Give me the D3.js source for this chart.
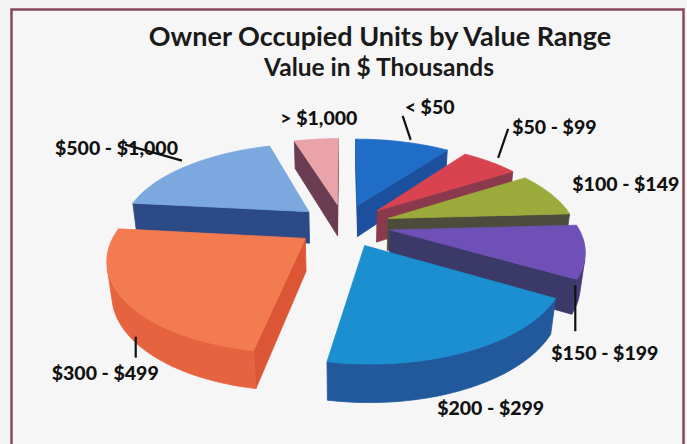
<!DOCTYPE html>
<html><head><meta charset="utf-8">
<script src="https://cdn.jsdelivr.net/npm/d3@7"></script>
<style>body{margin:0;background:#f3f3f3;} svg{display:block}</style>
</head><body>
<svg id="chart" width="687" height="444"></svg>
<script>
// ---------- data ----------
const categories = ["< $50", "$50 - $99", "$100 - $149", "$150 - $199", "$200 - $299", "$300 - $499", "$500 - $1,000", "> $1,000"];
const values = [10.0, 6.0, 8.1, 9.3, 19.4, 23.9, 18.6, 4.7];
const titleText = "Owner Occupied Units by Value Range";
const subtitleText = "Value in $ Thousands";

// ---------- styles ----------
const topColors  = ["#1f6dc6", "#d9434f", "#9bab3b", "#6f50b6", "#1b8fd0", "#f27b50", "#7ba8df", "#e9a3a9"];
const cutColors  = ["#1c4f9e", "#8a3a4c", "#4c4c3c", "#3b3968", "#23579b", "#dc5636", "#2c4a85", "#6b3d52"];
const wallColors = ["#1a56a8", "#a8394a", "#6a7630", "#433b76", "#22589c", "#e6633f", "#2c4a85", "#a06a78"];
// label layout: anchor level, leader line start/end offsets (or null), text offset
const labelAnchor = ["top", "top", "top", "bottom", "bottom", "bottom", "top", "top"];
const labelLineStart = [[8, -2], [8, -4], null, [-5, 0], null, [6, 0], [-6, -5], null];
const labelLine = [[0, -26], [18, -33], null, [-5, 46], null, [6, 21], [-63, -21], null];
const labelText = [[2, -28], [22, -28], [21, -3], [-29, 75], [-30, 26], [-78, 43], [-133, -11], [-36, -14]];

const W = 687, H = 444;
const svg = d3.select("#chart");
svg.append("rect").attr("width", W).attr("height", H).attr("fill", "#f3f3f3");
svg.append("rect").attr("x", 11.5).attr("y", 9.5).attr("width", 672).attr("height", 460)
  .attr("fill", "#f6f6f6").attr("stroke", "#86485a").attr("stroke-width", 2.5);

// ---------- 3D projection ----------
const cx = 344, cy = 225, R = 187, explode = 47, depth = 37, dist = 850;
const alpha = 27.4 * Math.PI / 180, sa = Math.sin(alpha), ca = Math.cos(alpha);
function project(X, Y, Z) {
  const yv = Y * ca + Z * sa, zv = Z * ca - Y * sa;
  const s = dist / (dist + zv);
  return [cx + X * s, cy - yv * s, zv];
}
const pie = d3.pie().sort(null).value(d => d)(values);
const steps = a => Math.max(2, Math.ceil(a / (1.5 * Math.PI / 180)));

function area(pts) {
  let s = 0;
  for (let i = 0; i < pts.length; i++) {
    const p = pts[i], q = pts[(i + 1) % pts.length];
    s += p[0] * q[1] - q[0] * p[1];
  }
  return s;
}
const closed = d3.line().curve(d3.curveLinearClosed);
const xy = pts => pts.map(q => [q[0], q[1]]);

const slices = pie.map((p, i) => {
  const mid = (p.startAngle + p.endAngle) / 2;
  const ex = explode * Math.sin(mid), ez = explode * Math.cos(mid);
  const n = steps(p.endAngle - p.startAngle);
  const angs = d3.range(n + 1).map(k => p.startAngle + (p.endAngle - p.startAngle) * k / n);
  const T = angs.map(a => project(ex + R * Math.sin(a), 0, ez + R * Math.cos(a)));
  const B = angs.map(a => project(ex + R * Math.sin(a), -depth, ez + R * Math.cos(a)));
  const Ct = project(ex, 0, ez), Cb = project(ex, -depth, ez);
  const cen = project(ex + R * 0.5 * Math.sin(mid), 0, ez + R * 0.5 * Math.cos(mid));
  return {i, p, mid, ex, ez, T, B, Ct, Cb, z: cen[2]};
});

const order = slices.slice().sort((a, b) => b.z - a.z);
const g = svg.append("g");
order.forEach(s => {
  const sg = g.append("g");
  const cuts = [[s.Ct, s.Cb, s.B[0], s.T[0]], [s.Ct, s.T[s.T.length - 1], s.B[s.B.length - 1], s.Cb]];
  cuts.filter(f => area(f) > 0).forEach(f => {
    sg.append("path").attr("d", closed(xy(f))).attr("fill", cutColors[s.i])
      .attr("stroke", cutColors[s.i]).attr("stroke-width", 0.8).attr("stroke-linejoin", "round");
  });
  // outer wall: merge runs of visible segments
  let run = null;
  const runs = [];
  for (let k = 0; k < s.T.length - 1; k++) {
    const vis = area([s.T[k], s.B[k], s.B[k + 1], s.T[k + 1]]) > 0;
    if (vis) { if (!run) { run = [k, k + 1]; runs.push(run); } else run[1] = k + 1; }
    else run = null;
  }
  runs.forEach(([a, b]) => {
    const pts = s.T.slice(a, b + 1).concat(s.B.slice(a, b + 1).reverse());
    sg.append("path").attr("d", closed(xy(pts))).attr("fill", wallColors[s.i])
      .attr("stroke", wallColors[s.i]).attr("stroke-width", 0.8).attr("stroke-linejoin", "round");
  });
  sg.append("path").attr("d", closed(xy([s.Ct, ...s.T])))
    .attr("fill", topColors[s.i]).attr("stroke", topColors[s.i]).attr("stroke-width", 0.8)
    .attr("stroke-linejoin", "round");
});

// ---------- labels ----------
const lab = svg.append("g").attr("font-family", "Lato, 'Open Sans', sans-serif").attr("font-weight", 900)
  .attr("font-size", 19.5).attr("fill", "#111");
slices.forEach(s => {
  const X = s.ex + R * Math.sin(s.mid), Z = s.ez + R * Math.cos(s.mid);
  const a = project(X, labelAnchor[s.i] === "top" ? 0 : -depth, Z);
  if (labelLine[s.i]) {
    const st = labelLineStart[s.i];
    lab.append("line").attr("x1", a[0] + st[0]).attr("y1", a[1] + st[1])
      .attr("x2", a[0] + labelLine[s.i][0]).attr("y2", a[1] + labelLine[s.i][1])
      .attr("stroke", "#111").attr("stroke-width", 2.2);
  }
  lab.append("text").attr("x", a[0] + labelText[s.i][0]).attr("y", a[1] + labelText[s.i][1])
    .text(categories[s.i]);
});

svg.append("text").attr("x", 380).attr("y", 46).attr("text-anchor", "middle")
  .attr("font-family", "Lato, 'Open Sans', sans-serif").attr("font-weight", 700).attr("font-size", 27)
  .attr("fill", "#1a1a1a").text(titleText);
svg.append("text").attr("x", 379).attr("y", 76).attr("text-anchor", "middle")
  .attr("font-family", "Lato, 'Open Sans', sans-serif").attr("font-weight", 700).attr("font-size", 24.5)
  .attr("fill", "#1a1a1a").text(subtitleText);
</script>
</body></html>
